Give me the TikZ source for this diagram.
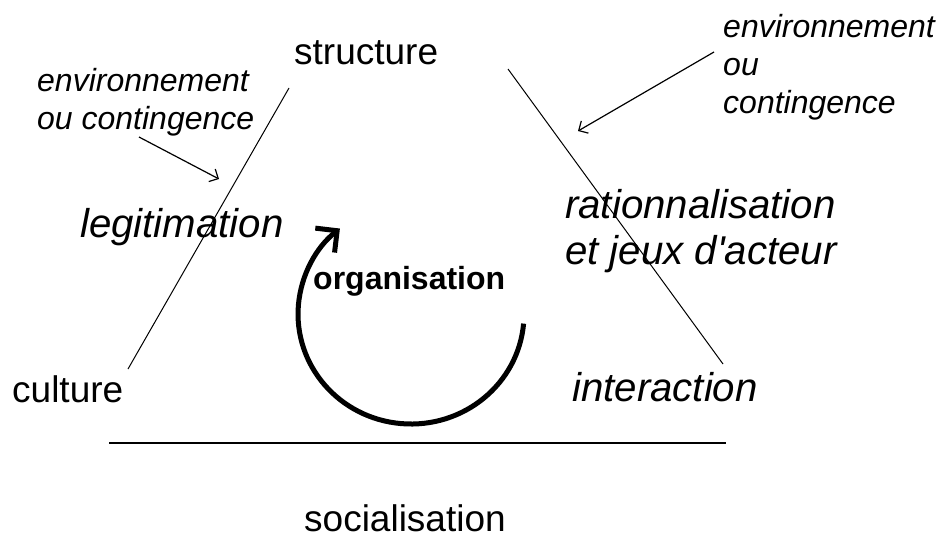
\documentclass[tikz,border=0pt]{standalone}
\usepackage{fontspec}
\setmainfont{Liberation Sans}[Ligatures=TeXOff]
\usetikzlibrary{arrows.meta}
\begin{document}
\begin{tikzpicture}[x=1pt,y=-1pt,
  lbl/.style={anchor=base west, inner sep=0pt, font=\fontsize{37}{44}\selectfont},
  ilbl/.style={anchor=base west, inner sep=0pt, font=\fontsize{40.2}{46}\selectfont\itshape},
  blbl/.style={anchor=base west, inner sep=0pt, font=\fontsize{32}{38}\selectfont\bfseries},
  env/.style={anchor=base west, inner sep=0pt, font=\fontsize{32}{38}\selectfont\itshape},
  thinline/.style={line width=1pt},
  rule/.style={line width=2pt},
  pointer/.style={line width=1.2pt, -{Straight Barb[angle=90:10pt]}},
  cyclearrow/.style={line width=5pt, -{Straight Barb[angle=90:22pt]}}]
\fill[white] (0,0) rectangle (939,538);
\useasboundingbox (0,0) rectangle (939,538);

% labels
\node[lbl] (structure) at (294,64) {structure};
\node[env] (envL1) at (37,91) {environnement};
\node[env] (envL2) at (37,129) {ou contingence};
\node[env] (envR1) at (723,37) {environnement};
\node[env] (envR2) at (723,75) {ou};
\node[env] (envR3) at (723,113) {contingence};
\node[ilbl] (legit) at (80,237) {legitimation};
\node[ilbl] (ratio1) at (565,218) {rationnalisation};
\node[ilbl] (ratio2) at (565,264) {et jeux d'acteur};
\node[blbl] (orga) at (313,289) {organisation};
\node[lbl] (culture) at (12,402) {culture};
\node[ilbl] (interaction) at (572,401) {interaction};
\node[lbl] (social) at (304,531) {socialisation};

% line end points
\coordinate (lt) at (289,88);
\coordinate (lb) at (128,369);
\coordinate (rt) at (508,69);
\coordinate (rb) at (723,364);
\coordinate (hl) at (109,443);
\coordinate (hr) at (726,443);
\coordinate (aLs) at (139,137);
\coordinate (aLe) at (219,179);
\coordinate (aRs) at (714,52);
\coordinate (aRe) at (578,131);
\coordinate (cyc) at (523.6,323.6);

\draw[thinline] (lt) -- (lb);
\draw[thinline] (rt) -- (rb);
\draw[rule] (hl) -- (hr);
\draw[pointer] (aLs) -- (aLe);
\draw[pointer] (aRs) -- (aRe);
\draw[cyclearrow] (cyc) arc[start angle=5, end angle=231, x radius=113, y radius=110];
\end{tikzpicture}
\end{document}
